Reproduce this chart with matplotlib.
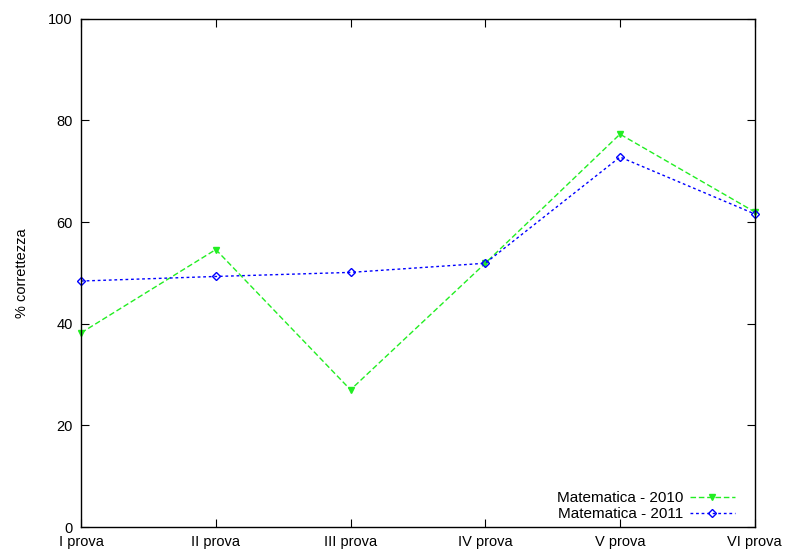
import matplotlib
matplotlib.use("Agg")
import matplotlib.pyplot as plt

categories = ["I prova", "II prova", "III prova", "IV prova", "V prova", "VI prova"]
mat_2010 = [38.2, 54.6, 27.0, 51.9, 77.3, 62.0]
mat_2011 = [48.4, 49.3, 50.1, 51.9, 72.8, 61.6]
yticks = [0, 20, 40, 60, 80, 100]

plt.rcParams['font.family'] = ['Liberation Sans', 'DejaVu Sans']
fig = plt.figure(figsize=(7.87, 5.53), dpi=100)
ax = fig.add_axes([0.103, 0.047, 0.856, 0.919])
x = list(range(len(categories)))
ax.plot(x, mat_2010, color='#22ee22', linestyle=(0, (4, 2)), linewidth=1,
        marker='v', markersize=5, label='Matematica - 2010', clip_on=False)
ax.plot(x, mat_2011, color='#0000ff', linestyle=(0, (2, 2)), linewidth=1,
        marker='D', markersize=4.5, markerfacecolor='none', label='Matematica - 2011',
        clip_on=False)
ax.set_xlim(0, len(categories) - 1)
ax.set_ylim(0, 100)
ax.set_xticks(x)
ax.set_xticklabels(categories, fontsize=10.5)
ax.set_yticks(yticks)
ax.set_yticklabels([str(v) for v in yticks], fontsize=10.5)
ax.tick_params(direction='in', top=True, right=True, length=6, pad=6)
ax.set_ylabel('% correttezza', fontsize=10.5, labelpad=14)
for s in ax.spines.values():
    s.set_linewidth(1)
leg = ax.legend(loc='lower right', bbox_to_anchor=(0.970, 0.012), frameon=False,
                fontsize=11, markerfirst=False, handlelength=2.9, handletextpad=0.45,
                borderpad=0, borderaxespad=0, labelspacing=0.1)
fig.savefig('out.png', dpi=100)
